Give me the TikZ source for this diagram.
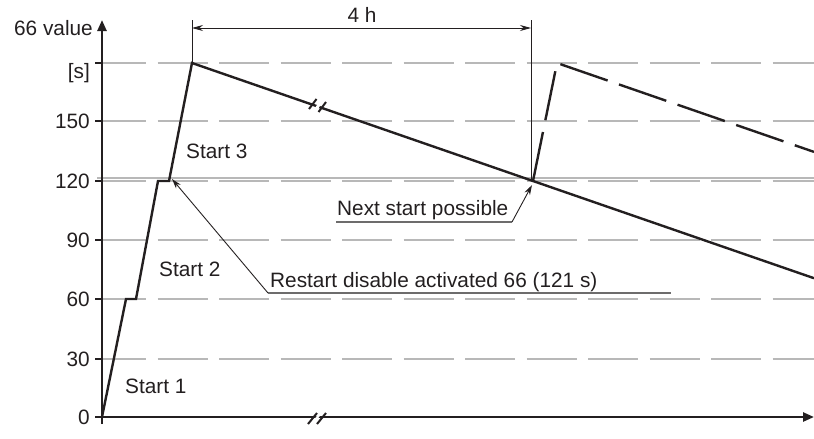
\documentclass[tikz,border=0pt]{standalone}
\usepackage{fontspec}
\setmainfont{Liberation Sans}
\usetikzlibrary{arrows.meta}
\definecolor{ink}{HTML}{231F20}
\definecolor{gridgray}{HTML}{B8B8B8}
\begin{document}
\begin{tikzpicture}[x=1pt,y=-1pt,
  txt/.style={font=\fontsize{20.8}{24}\selectfont, text=ink, inner sep=0pt},
  gridline/.style={gridgray, line width=1.4pt, dash pattern=on 50pt off 11.5pt},
  axisline/.style={ink, line width=2.4pt, -{Triangle[length=11pt,width=9pt]}},
  curve/.style={ink, line width=2.4pt, line join=miter},
  dashcurve/.style={ink, line width=2.4pt, dash pattern=on 50pt off 12pt},
  thin/.style={ink, line width=0.9pt},
  leader/.style={ink, line width=0.9pt, -{Stealth[length=10pt,width=6pt]}},
  tick/.style={ink, line width=1.4pt},
  breakmark/.style={ink, line width=2pt}]
\useasboundingbox (0,0) rectangle (814,439);

% grid lines
\foreach \yy in {63,121,181,240,299,359}
  \draw[gridline] (96,\yy) -- (814,\yy);
\draw[gridgray, line width=1.4pt] (97,178) -- (814,178);

% ticks and labels
\foreach \yy/\lab in {121/150,181/120,240/90,299/60,359/30,417/0}{
  \draw[tick] (95,\yy) -- (102,\yy);
  \node[txt, anchor=east] at (90,\yy) {\lab};
}
\draw[tick] (95,63) -- (102,63);
\node[txt, anchor=east] (unit) at (90,73) {[s]};

% axes
\coordinate (ybot) at (102,424);
\coordinate (ytop) at (102,20);
\coordinate (xleft) at (102,417);
\coordinate (xright) at (814,417);
\draw[axisline] (ybot) -- (ytop);
\draw[axisline] (xleft) -- (xright);
\node[txt, anchor=east] (ylab) at (93,28) {66 value};

% x axis break
\fill[white] (311,424) -- (319,413) -- (322,413) -- (314,424) -- cycle;
\draw[breakmark] (308,424) -- (317,413);
\draw[breakmark] (317,424) -- (326,413);

% main curve
\coordinate (o) at (102,417);
\coordinate (a1) at (126,299);
\coordinate (a2) at (136,299);
\coordinate (b1) at (158,181);
\coordinate (b2) at (169,181);
\coordinate (peak) at (192,63);
\coordinate (next) at (533,181);
\coordinate (endA) at (814,278.2);
\draw[curve] (o) -- (a1) -- (a2) -- (b1) -- (b2) -- (peak) -- (next) -- (endA);

% break on declining line
\fill[white] (313.5,110) -- (320.5,100) -- (323.5,101) -- (316.5,111) -- cycle;
\draw[breakmark] (309,109) -- (316.5,99);
\draw[breakmark] (318.5,112) -- (326,102);

% second start (dashed)
\coordinate (peak2) at (557,63);
\coordinate (endB) at (814,151.9);
\draw[dashcurve] (next) -- (peak2) -- (endB);

% dimension 4 h
\coordinate (v1top) at (192,20);
\coordinate (v2top) at (531,20);
\coordinate (v2bot) at (531,181);
\draw[thin] (v1top) -- (peak);
\draw[thin] (v2top) -- (v2bot);
\coordinate (d1) at (192,28);
\coordinate (d2) at (531,28);
\draw[thin, {Stealth[length=11pt,width=6pt]}-{Stealth[length=11pt,width=6pt]}] (d1) -- (d2);
\node[txt] (fourh) at (362,15) {4 h};

% start labels
\node[txt, anchor=west] (s1) at (125,386) {Start 1};
\node[txt, anchor=west] (s2) at (159,269) {Start 2};
\node[txt, anchor=west] (s3) at (186,151) {Start 3};

% restart disable annotation
\node[txt, anchor=base west] (restart) at (270,287) {Restart disable activated 66 (121 s)};
\coordinate (ru1) at (268,293);
\coordinate (ru2) at (671,293);
\coordinate (rtip) at (172,179);
\draw[gray!80!ink, line width=1.2pt] (ru1) -- (ru2);
\draw[leader] (ru1) -- (rtip);

% next start possible annotation
\node[txt, anchor=base west] (nsp) at (337,215) {Next start possible};
\coordinate (nu1) at (336,222);
\coordinate (nu2) at (512,222);
\coordinate (ntip) at (532,185);
\draw[gray!80!ink, line width=1.2pt] (nu1) -- (nu2);
\draw[leader] (nu2) -- (ntip);
\end{tikzpicture}
\end{document}
